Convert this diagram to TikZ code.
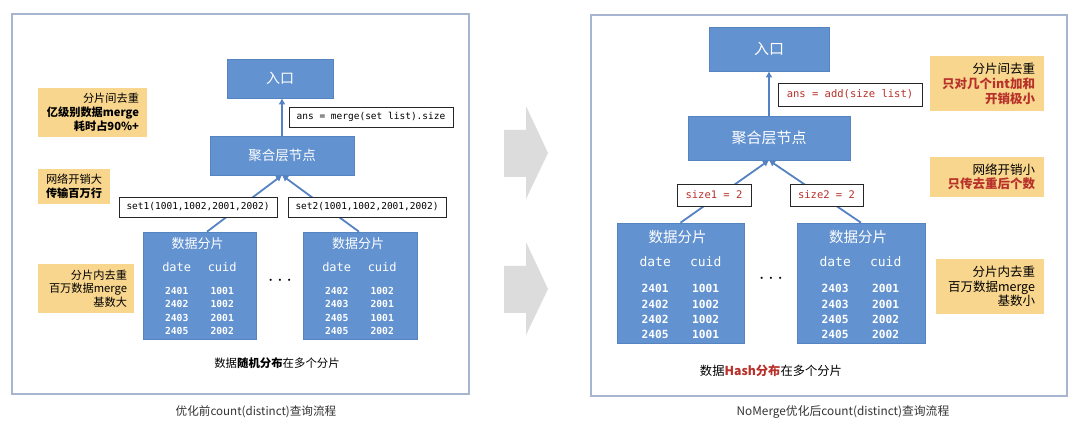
\documentclass[tikz,border=0pt]{standalone}
\usepackage{fontspec}
\setmainfont{Noto Sans CJK SC}
\setmonofont{DejaVu Sans Mono}
\usetikzlibrary{arrows.meta,calc}
\definecolor{frameblue}{HTML}{A6B6D0}
\definecolor{boxblue}{HTML}{6292D0}
\definecolor{boxedge}{HTML}{5584C0}
\definecolor{lineblue}{HTML}{5582C2}
\definecolor{noteyellow}{HTML}{F8D68E}
\definecolor{hotred}{HTML}{B8302A}
\definecolor{arrowgray}{HTML}{DCDCDC}
\definecolor{titlegray}{HTML}{333333}
\begin{document}
\begin{tikzpicture}[x=1pt,y=-1pt,
  bluebox/.style={fill=boxblue, draw=boxedge, line width=0.6pt, text=white, inner sep=0pt},
  lblbox/.style={fill=white, draw=black!85, line width=0.9pt, inner sep=0pt, font=\ttfamily\fontsize{9.5}{11}\selectfont},
  notebox/.style={fill=noteyellow, inner ysep=0pt, align=right},
  conn/.style={draw=lineblue, line width=1.8pt, -{Latex[length=6pt,width=7pt]}},
  panel/.style={draw=frameblue, line width=1.4pt},
  shardtitle/.style={text=white, inner sep=0pt},
  colhead/.style={text=white, inner sep=0pt, font=\ttfamily},
  colrows/.style={text=white, inner sep=0pt, align=center},
  caption/.style={inner sep=0pt, text=black},
  dots/.style={inner sep=0pt, font=\fontsize{20}{20}\selectfont}
]
\useasboundingbox (0,0) rectangle (1080,427);
\fill[white] (0,0) rectangle (1080,427);

% panels
\draw[panel] (12,14) rectangle (469,394);
\draw[panel] (591,15) rectangle (1067,396);

% middle gray arrows
\fill[arrowgray] (504,130) -- (526,130) -- (526,106) -- (548,153) -- (526,199) -- (526,177) -- (504,177) -- cycle;
\fill[arrowgray] (504,266) -- (526,266) -- (526,242) -- (548,289) -- (526,335) -- (526,313) -- (504,313) -- cycle;

% ================= LEFT =================
\node[bluebox, minimum width=106pt, minimum height=39pt, font=\fontsize{14}{16}\selectfont] (lentry) at (280,78.5) {入口};
\node[bluebox, minimum width=144pt, minimum height=39pt, font=\fontsize{13.5}{16}\selectfont] (lagg) at (282,155.5) {聚合层节点};
\node[bluebox, minimum width=113pt, minimum height=107pt] (ls1) at (199.5,285.5) {};
\node[bluebox, minimum width=114pt, minimum height=107pt] (ls2) at (360,285.5) {};

\draw[conn] (lagg.north) -- (lagg.north |- lentry.south);
\draw[conn] ($(ls1.north)+(7.5,0)$) -- (lagg.south);
\draw[conn] ($(ls2.north)+(-1,0)$) -- (lagg.south);

\node[lblbox, minimum width=164pt, minimum height=20pt] (lans) at (371,117) {ans = merge(set list).size};
\node[lblbox, minimum width=158pt, minimum height=20pt] (lset1) at (198,207) {set1(1001,1002,2001,2002)};
\node[lblbox, minimum width=158pt, minimum height=20pt] (lset2) at (367,207) {set2(1001,1002,2001,2002)};

% shard contents left
\foreach \s/\da/\cu in {ls1/{2401\\2402\\2403\\2405}/{1001\\1002\\2001\\2002}, ls2/{2402\\2403\\2405\\2405}/{1002\\2001\\1001\\2002}}{
  \node[shardtitle, font=\fontsize{13}{15}\selectfont] (\s-t) at ($(\s.north)+(-2,11.5)$) {数据分片};
  \node[colhead, font=\ttfamily\fontsize{12}{14}\selectfont] (\s-hd) at ($(\s.north west)+(34,35)$) {date};
  \node[colhead, font=\ttfamily\fontsize{12}{14}\selectfont] (\s-hc) at ($(\s.north west)+(79.5,35)$) {cuid};
  \node[colrows, font=\ttfamily\bfseries\fontsize{9.7}{13.5}\selectfont] (\s-rd) at ($(\s.north west)+(34,79.5)$) {\da};
  \node[colrows, font=\ttfamily\bfseries\fontsize{9.7}{13.5}\selectfont] (\s-rc) at ($(\s.north west)+(79.5,79.5)$) {\cu};
}
\node[dots] (ldots) at (280,281) {$\cdots$};

% notes left
\node[notebox, minimum height=49pt, text width=93pt, inner xsep=8pt, font=\fontsize{11.2}{14}\selectfont] (ln1) at (92.5,112.5)
  {分片间去重\\\textbf{亿级别数据merge}\\\textbf{耗时占90\%+}};
\node[notebox, align=center, minimum height=35pt, minimum width=72pt, inner xsep=0pt, font=\fontsize{11.2}{14}\selectfont] (ln2) at (74,186.5)
  {网络开销大\\\textbf{传输百万行}};
\node[notebox, minimum height=49pt, text width=82pt, inner xsep=7pt, font=\fontsize{11.2}{13.5}\selectfont] (ln3) at (86,288.5)
  {分片内去重\\百万数据merge\\基数大};

\node[caption, font=\fontsize{11.4}{13}\selectfont] (lcap) at (277,363) {数据\textbf{随机分布}在多个分片};
\node[caption, text=titlegray, font=\fontsize{11.6}{13}\selectfont] (ltitle) at (256,412) {优化前count(distinct)查询流程};

% ================= RIGHT =================
\node[bluebox, minimum width=120pt, minimum height=44pt, font=\fontsize{15}{17}\selectfont] (rentry) at (769,49) {入口};
\node[bluebox, minimum width=162pt, minimum height=44pt, font=\fontsize{15}{17}\selectfont] (ragg) at (769,138) {聚合层节点};
\node[bluebox, minimum width=127pt, minimum height=120pt] (rs1) at (680.5,283) {};
\node[bluebox, minimum width=128pt, minimum height=120pt] (rs2) at (861,283) {};

\draw[conn] (ragg.north) -- (rentry.south);
\draw[conn] (rs1.north) -- (ragg.south);
\draw[conn] (rs2.north) -- (ragg.south);

\node[lblbox, text=hotred, font=\ttfamily\fontsize{10.5}{12}\selectfont, minimum width=144pt, minimum height=23pt] (rans) at (850,94.5) {ans = add(size list)};
\node[lblbox, text=hotred, font=\ttfamily\fontsize{10.5}{12}\selectfont, minimum width=74pt, minimum height=22pt] (rsz1) at (714,195) {size1 = 2};
\node[lblbox, text=hotred, font=\ttfamily\fontsize{10.5}{12}\selectfont, minimum width=73pt, minimum height=22pt] (rsz2) at (826.5,195) {size2 = 2};

\foreach \s/\da/\cu in {rs1/{2401\\2402\\2402\\2405}/{1001\\1002\\1002\\1001}, rs2/{2403\\2403\\2405\\2405}/{2001\\2001\\2002\\2002}}{
  \node[shardtitle, font=\fontsize{14.5}{16}\selectfont] (\s-t) at ($(\s.north)+(-3,14)$) {数据分片};
  \node[colhead, font=\ttfamily\fontsize{13}{15}\selectfont] (\s-hd) at ($(\s.north west)+(38.5,39)$) {date};
  \node[colhead, font=\ttfamily\fontsize{13}{15}\selectfont] (\s-hc) at ($(\s.north west)+(89,39)$) {cuid};
  \node[colrows, font=\ttfamily\bfseries\fontsize{11.2}{15.3}\selectfont] (\s-rd) at ($(\s.north west)+(38.5,89)$) {\da};
  \node[colrows, font=\ttfamily\bfseries\fontsize{11.2}{15.3}\selectfont] (\s-rc) at ($(\s.north west)+(89,89)$) {\cu};
}
\node[dots] (rdots) at (771,279) {$\cdots$};

\node[notebox, minimum height=55pt, text width=96pt, inner xsep=9pt, font=\fontsize{12.5}{15}\selectfont] (rn1) at (987,83.5)
  {分片间去重\\\textbf{\color{hotred}只对几个int加和}\\\textbf{\color{hotred}开销极小}};
\node[notebox, minimum height=40pt, text width=96pt, inner xsep=9pt, font=\fontsize{12.5}{14}\selectfont] (rn2) at (987,177)
  {网络开销小\\\textbf{\color{hotred}只传去重后个数}};
\node[notebox, minimum height=55pt, text width=90pt, inner xsep=9pt, font=\fontsize{12.5}{14.5}\selectfont] (rn3) at (990,286.5)
  {分片内去重\\百万数据merge\\基数小};

\node[caption, font=\fontsize{12.3}{14}\selectfont] (rcap) at (771,371) {数据\textbf{\color{hotred}Hash分布}在多个分片};
\node[caption, text=titlegray, font=\fontsize{11.8}{13}\selectfont] (rtitle) at (843,412) {NoMerge优化后count(distinct)查询流程};
\end{tikzpicture}
\end{document}
